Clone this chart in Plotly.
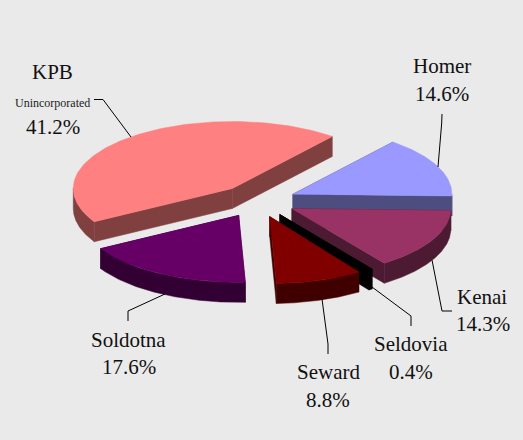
import math
import plotly.graph_objects as go

# ---- data ----
communities = ["KPB", "Homer", "Kenai", "Seldovia", "Seward", "Soldotna"]
# shares of the circle as drawn (the printed labels only total 96.9%)
slice_shares = [44.1, 14.6, 14.7, 0.4, 8.8, 17.4]
value_labels = ["41.2%", "14.6%", "14.3%", "0.4%", "8.8%", "17.6%"]
top_colors = ["#FF8080", "#9999FF", "#993366", "#000000", "#800000", "#660066"]
wall_colors = ["#804040", "#4D4D80", "#4D1A33", "#000000", "#400000", "#330033"]
background = "#EAEAEA"

# ---- projection of the tilted pie onto the page ----
CX, CY = 257.5, 201.0
RX, RY = 159.0, 67.0
DEPTH = 20.0
EXPLODE = 0.245
HOMER_LEADING_EDGE_DEG = 51.0   # slices then run clockwise
FONT = "Liberation Serif"


def proj(theta, cx, cy, r=1.0):
    return cx + r * RX * math.cos(theta), cy - r * RY * math.sin(theta)


def poly_trace(pts, color):
    return go.Scatter(
        x=[p[0] for p in pts] + [pts[0][0]],
        y=[p[1] for p in pts] + [pts[0][1]],
        mode="lines", fill="toself", fillcolor=color,
        line=dict(color=color, width=0.5), hoverinfo="skip", showlegend=False,
    )


# angular extents
total = sum(slice_shares)
angles = {}
a = math.radians(HOMER_LEADING_EDGE_DEG)
order_clockwise = ["Homer", "Kenai", "Seldovia", "Seward", "Soldotna", "KPB"]
for name in order_clockwise:
    i = communities.index(name)
    span = 2 * math.pi * slice_shares[i] / total
    angles[name] = (a - span, a)
    a -= span

fig = go.Figure()
draw_order = ["KPB", "Homer", "Kenai", "Soldotna", "Seldovia", "Seward"]
for name in draw_order:
    i = communities.index(name)
    lo, hi = angles[name]
    mid = (lo + hi) / 2
    cx, cy = proj(mid, CX, CY, EXPLODE)
    n = max(4, int((hi - lo) * 60))
    arc = [lo + (hi - lo) * k / n for k in range(n + 1)]
    top_arc = [proj(t, cx, cy) for t in arc]
    # radial walls, farther one first
    e_lo, e_hi = proj(lo, cx, cy), proj(hi, cx, cy)
    walls = sorted([e_lo, e_hi], key=lambda p: p[1])
    for e in walls:
        fig.add_trace(poly_trace(
            [(cx, cy), e, (e[0], e[1] + DEPTH), (cx, cy + DEPTH)], wall_colors[i]))
    # rim: only the part on the near half of the ellipse
    near = []
    for k in range(n * 3 + 1):
        t = lo + (hi - lo) * k / (n * 3)
        if math.sin(t) <= 0:
            near.append(proj(t, cx, cy))
    if len(near) > 1:
        fig.add_trace(poly_trace(
            near + [(p[0], p[1] + DEPTH) for p in reversed(near)], wall_colors[i]))
    fig.add_trace(poly_trace([(cx, cy)] + top_arc, top_colors[i]))

# leader lines
leaders = [
    [(94, 99.5), (103, 99.5), (131, 137)],
    [(442, 114), (441.7, 123), (438, 167)],
    [(452, 311), (442, 311), (432, 260)],
    [(411, 326), (411, 316), (372, 287)],
    [(328, 354), (328, 344), (322, 299)],
    [(128, 321), (128, 311), (165, 294)],
]
for pts in leaders:
    fig.add_trace(go.Scatter(
        x=[p[0] for p in pts], y=[p[1] for p in pts], mode="lines",
        line=dict(color="#000000", width=1), hoverinfo="skip", showlegend=False))

# label placement, page pixels: name centre, value centre
label_pos = {
    "KPB": ((52.5, 72), (52.5, 127)),
    "Homer": ((441.7, 66), (442, 94)),
    "Kenai": ((482, 297), (483, 324)),
    "Seldovia": ((411, 344), (411, 372)),
    "Seward": ((328, 372), (328, 400)),
    "Soldotna": ((128, 340), (129, 367)),
}
for i, name in enumerate(communities):
    for (x, y), text in zip(label_pos[name], (name, value_labels[i])):
        fig.add_annotation(x=x, y=y, text=text, showarrow=False, xref="x", yref="y",
                           xanchor="center", yanchor="middle",
                           font=dict(family=FONT, size=21, color="#111111"))
fig.add_annotation(x=52.7, y=103, text="Unincorporated", showarrow=False,
                   xanchor="center", yanchor="middle",
                   font=dict(family=FONT, size=12, color="#222222"))
# The reference's title is cropped away except for an illegible speck at the
# top edge, so no title text is invented here.

fig.update_layout(
    width=523, height=440, autosize=False,
    margin=dict(l=0, r=0, t=0, b=0),
    paper_bgcolor=background, plot_bgcolor=background,
    showlegend=False,
    xaxis=dict(range=[0, 523], visible=False, fixedrange=True),
    yaxis=dict(range=[440, 0], visible=False, fixedrange=True),
)
fig.write_html(
    "out.html",
    config={"displayModeBar": False},
    post_script="document.body.style.margin='0';document.body.style.background='#EAEAEA';",
)
